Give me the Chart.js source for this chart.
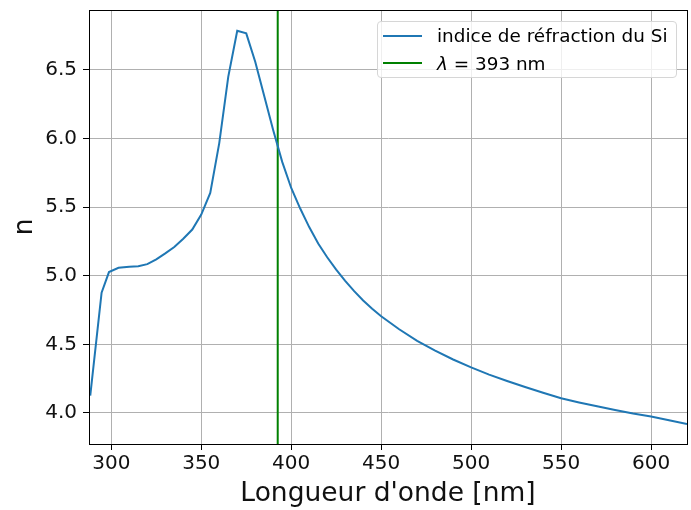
<!DOCTYPE html>
<html>
<head>
<meta charset="utf-8">
<script src="https://cdn.jsdelivr.net/npm/chart.js@4"></script>
<style>
  body { margin: 0; background: #fff; }
  #wrap { position: relative; width: 691px; height: 510px; }
  #legend {
    position: absolute; left: 377px; top: 21px; width: 300px; height: 57px;
    box-sizing: border-box; border: 1px solid #d6d6d6; border-radius: 4px;
    background: rgba(255, 255, 255, 0.8);
    font-family: "DejaVu Sans", sans-serif; font-size: 18.4px; color: #000;
  }
  .row { display: flex; align-items: center; height: 27.4px; }
  .swatch { width: 39px; height: 2px; margin-left: 5px; margin-right: 15px; }
</style>
</head>
<body>
<div id="wrap">
  <canvas id="chart" width="691" height="510"></canvas>
  <div id="legend"></div>
</div>
<script>
// wavelength (nm) and refractive index of Si
const wavelengths = [288.3, 294.6, 298.7, 304, 310, 315, 320, 325, 330, 335, 340, 345, 350, 355, 360, 365, 370, 375, 380, 385, 390, 395, 400, 405, 410, 415, 420, 425, 430, 435, 440, 445, 450, 460, 470, 480, 490, 500, 510, 520, 530, 540, 550, 560, 570, 580, 590, 600, 610, 620];
const indexN = [4.126, 4.877, 5.027, 5.058, 5.066, 5.07, 5.085, 5.12, 5.163, 5.21, 5.27, 5.337, 5.446, 5.604, 5.967, 6.45, 6.786, 6.767, 6.56, 6.31, 6.06, 5.83, 5.64, 5.49, 5.355, 5.235, 5.135, 5.045, 4.963, 4.888, 4.82, 4.76, 4.705, 4.61, 4.525, 4.455, 4.39, 4.332, 4.28, 4.233, 4.189, 4.148, 4.107, 4.077, 4.049, 4.022, 3.997, 3.975, 3.947, 3.92];

const lambdaLine = 392.5;
const lambdaLabel = "393";

const xTicks = [300, 350, 400, 450, 500, 550, 600];
const yTicks = [4.0, 4.5, 5.0, 5.5, 6.0, 6.5];
const xRange = [287.6, 620];
const yRange = [3.774, 6.937];

const font = "DejaVu Sans";

// box around the whole plot area (top and right sides too)
const frame = {
  id: "frame",
  afterDraw(chart) {
    const a = chart.chartArea;
    const c = chart.ctx;
    c.save();
    c.strokeStyle = "#000";
    c.lineWidth = 1;
    c.strokeRect(Math.round(a.left) + 0.5, Math.round(a.top) + 0.5, Math.round(a.right - a.left), Math.round(a.bottom - a.top));
    c.restore();
  },
};

const ctx = document.getElementById("chart").getContext("2d");
const chart = new Chart(ctx, {
  type: "line",
  data: {
    datasets: [
      {
        label: "indice de réfraction du Si",
        data: wavelengths.map((w, i) => ({ x: w, y: indexN[i] })),
        borderColor: "#1f77b4",
        borderWidth: 2,
        pointRadius: 0,
        tension: 0,
      },
      {
        label: "λ = " + lambdaLabel + " nm",
        data: [{ x: lambdaLine, y: yRange[0] }, { x: lambdaLine, y: yRange[1] }],
        borderColor: "#008000",
        borderWidth: 2,
        pointRadius: 0,
      },
    ],
  },
  options: {
    responsive: false,
    animation: false,
    layout: { padding: { top: 10, right: 4, left: 0, bottom: 0 } },
    plugins: { legend: { display: false }, tooltip: { enabled: false } },
    scales: {
      x: {
        type: "linear",
        min: xRange[0],
        max: xRange[1],
        afterBuildTicks: (s) => { s.ticks = xTicks.map((v) => ({ value: v })); },
        afterFit: (s) => { s.height = 66; s.paddingLeft = 0; s.paddingRight = 0; },
        grid: { color: "#b0b0b0", lineWidth: 1, tickLength: 6, tickColor: "#000" },
        border: { color: "#000", width: 1 },
        ticks: { font: { family: font, size: 20 }, color: "#111", padding: 2, maxRotation: 0 },
        title: { display: true, text: "Longueur d'onde [nm]", font: { family: font, size: 26.5 }, color: "#111", padding: { top: 0, bottom: 0 } },
      },
      y: {
        min: yRange[0],
        max: yRange[1],
        afterBuildTicks: (s) => { s.ticks = yTicks.map((v) => ({ value: v })); },
        afterFit: (s) => { s.width = 89; s.paddingTop = 0; s.paddingBottom = 0; },
        grid: { color: "#b0b0b0", lineWidth: 1, tickLength: 6, tickColor: "#000" },
        border: { color: "#000", width: 1 },
        ticks: { font: { family: font, size: 20 }, color: "#111", padding: 6, callback: (v) => v.toFixed(1) },
        title: { display: true, text: "n", font: { family: font, size: 27 }, color: "#111", padding: { top: 9, bottom: 0 } },
      },
    },
  },
  plugins: [frame],
});

// matplotlib-style legend inside the plot
const legend = document.getElementById("legend");
chart.data.datasets.forEach((ds) => {
  const row = document.createElement("div");
  row.className = "row";
  const sw = document.createElement("span");
  sw.className = "swatch";
  sw.style.background = ds.borderColor;
  const txt = document.createElement("span");
  if (ds.label.startsWith("λ")) {
    txt.innerHTML = "<i>λ</i>" + ds.label.slice(1);
  } else {
    txt.textContent = ds.label;
  }
  row.appendChild(sw);
  row.appendChild(txt);
  legend.appendChild(row);
});
</script>
</body>
</html>
